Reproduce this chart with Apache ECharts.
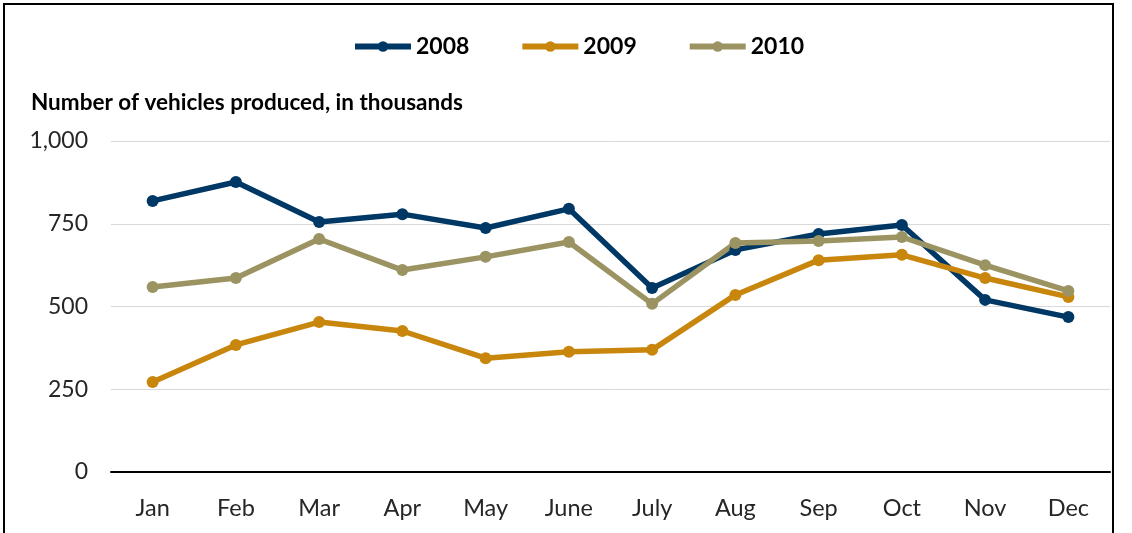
<!DOCTYPE html>
<html><head><meta charset="utf-8">
<script src="https://cdn.jsdelivr.net/npm/echarts@6/dist/echarts.min.js"></script>
<style>html,body{margin:0;padding:0;background:#fff}#c{width:1132px;height:533px}</style>
</head><body><div id="c"></div>
<script>
var categories = ["Jan","Feb","Mar","Apr","May","June","July","Aug","Sep","Oct","Nov","Dec"];
var s2008 = [819, 876, 755, 779, 737, 795, 556, 671, 719, 746, 520, 468];
var s2009 = [272, 384, 453, 426, 344, 363, 369, 535, 640, 656, 586, 529];
var s2010 = [559, 586, 704, 610, 650, 695, 508, 692, 698, 710, 625, 547];
var yTicks = {min: 0, max: 1000, interval: 250};

var font = "Lato";
function ser(name, data, color) {
  return {name: name, type: 'line', data: data, symbol: 'circle', symbolSize: 12,
    lineStyle: {width: 5.5, color: color}, itemStyle: {color: color}};
}
var chart = echarts.init(document.getElementById('c'), null, {renderer: 'canvas'});
chart.setOption({
  animation: false,
  backgroundColor: '#fff',
  textStyle: {fontFamily: font},
  graphic: [
    {type: 'polyline', shape: {points: [[4, 533], [4, 4], [1113, 4], [1113, 533]]}, style: {stroke: '#000', lineWidth: 2, fill: null}},
    {type: 'text', left: 31, top: 91, style: {text: 'Number of vehicles produced, in thousands', font: 'bold 22.5px Lato', fill: '#000'}}
  ],
  legend: {
    top: 35, left: 352, padding: 0, itemGap: 50, itemWidth: 56, itemHeight: 13,
    lineStyle: {width: 6},
    textStyle: {fontSize: 23, fontWeight: 'bold', color: '#000', fontFamily: font},
    data: ['2008', '2009', '2010']
  },
  grid: {left: 111, top: 141, width: 999, height: 331},
  xAxis: {type: 'category', data: categories, boundaryGap: true,
    axisLine: {lineStyle: {color: '#000', width: 2}}, axisTick: {show: false},
    axisLabel: {fontSize: 23.5, color: '#262626', margin: 24, fontFamily: font}},
  yAxis: {type: 'value', min: yTicks.min, max: yTicks.max, interval: yTicks.interval,
    axisLine: {show: false}, axisTick: {show: false},
    splitLine: {lineStyle: {color: '#d9d9d9', width: 1}},
    axisLabel: {fontSize: 23, color: '#262626', margin: 23, fontFamily: font,
      formatter: function (v) { return v.toLocaleString('en-US'); }}},
  series: [ser('2008', s2008, '#003865'), ser('2009', s2009, '#C8860D'), ser('2010', s2010, '#9B9462')]
});
</script></body></html>
